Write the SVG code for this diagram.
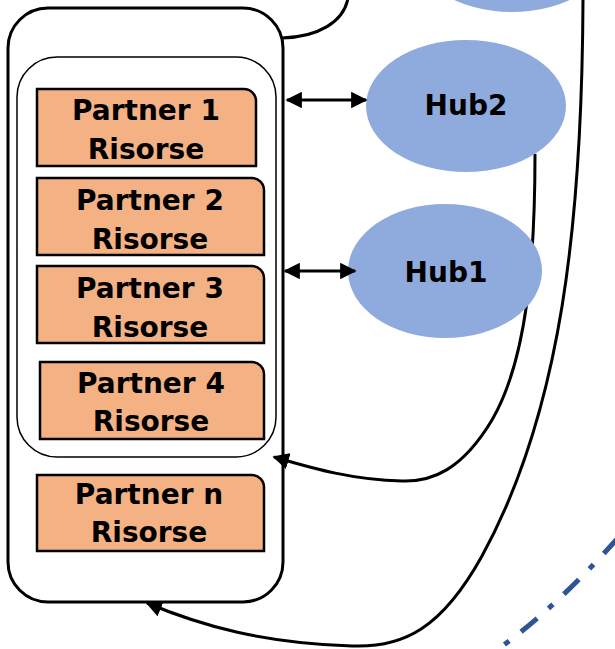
<svg xmlns="http://www.w3.org/2000/svg" width="615" height="649" viewBox="0 0 615 649">
<defs>
<style>
.cont{fill:none;stroke:#000;stroke-width:3}
.inner{fill:none;stroke:#000;stroke-width:1.5}
.box{fill:#F4B183;stroke:#000;stroke-width:2.5}
.hub{fill:#8FAADC;stroke:none}
.t{font-family:"DejaVu Sans",sans-serif;font-weight:bold;font-size:28px;fill:#000;text-anchor:middle}
.c{fill:none;stroke:#000;stroke-width:3}
.dd{fill:none;stroke:#2F5597;stroke-width:5;stroke-dasharray:21 15 6 15}
</style>
<marker id="ah" viewBox="0 0 10 10" refX="9" refY="5" markerWidth="5.5" markerHeight="5.5" orient="auto-start-reverse" markerUnits="strokeWidth">
<path d="M0,0 L10,5 L0,10 Z" fill="#000"/>
</marker>
</defs>
<g id="connectors">
<path class="c" d="M282,38 C318,37 344,22 348,-2"/>
<path class="c" d="M535,154 C535,260 527,360 492,420 C462,470 432,482 402,481 C352,480 312,468 274,457" marker-end="url(#ah)"/>
<path class="c" d="M583,0 C582,220 562,410 482,556 C442,628 404,648 352,646 C262,643 202,626 147,603" marker-end="url(#ah)"/>
<path class="dd" d="M618,538 C580,580 540,620 494,652"/>
</g>
<g id="hub3"><ellipse class="hub" cx="512" cy="-54" rx="100" ry="66"/></g>
<g id="container">
<rect class="cont" x="8" y="8" width="275" height="594" rx="40" ry="40"/>
<rect class="inner" x="17" y="57" width="259" height="400" rx="40" ry="40"/>
</g>
<g id="p1"><path class="box" d="M37,89 H244 A12,12 0 0 1 256,101 V166 H37 Z"/><text class="t" x="146" y="120">Partner 1</text><text class="t" x="146" y="159">Risorse</text></g>
<g id="p2"><path class="box" d="M37,178 H252 A12,12 0 0 1 264,190 V255 H37 Z"/><text class="t" x="150" y="210">Partner 2</text><text class="t" x="150" y="249">Risorse</text></g>
<g id="p3"><path class="box" d="M37,266 H252 A12,12 0 0 1 264,278 V343 H37 Z"/><text class="t" x="150" y="298">Partner 3</text><text class="t" x="150" y="337">Risorse</text></g>
<g id="p4"><path class="box" d="M40,362 H252 A12,12 0 0 1 264,374 V439 H40 Z"/><text class="t" x="151" y="393">Partner 4</text><text class="t" x="151" y="431">Risorse</text></g>
<g id="pn"><path class="box" d="M37,475 H252 A12,12 0 0 1 264,487 V551 H37 Z"/><text class="t" x="149" y="504">Partner n</text><text class="t" x="149" y="542">Risorse</text></g>
<g id="hub2"><ellipse class="hub" cx="466" cy="106" rx="100" ry="66"/><text class="t" x="466" y="115">Hub2</text></g>
<g id="hub1"><ellipse class="hub" cx="445" cy="271" rx="97" ry="67"/><text class="t" x="446" y="282">Hub1</text></g>
<g id="connectors-arrows">
<path class="c" d="M287,100 H366" marker-start="url(#ah)" marker-end="url(#ah)"/>
<path class="c" d="M285,271 H355" marker-start="url(#ah)" marker-end="url(#ah)"/>
</g>
</svg>
